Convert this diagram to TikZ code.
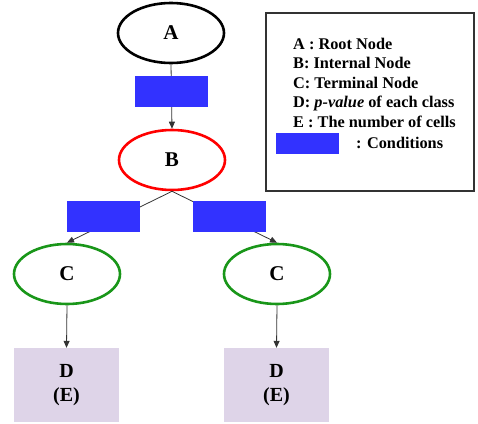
\documentclass[tikz,border=0pt]{standalone}
\usepackage{fontspec}
\setmainfont{Liberation Serif}
\usetikzlibrary{shapes.geometric,arrows.meta}
\definecolor{condblue}{RGB}{50,50,255}
\definecolor{leafpurple}{RGB}{222,212,232}
\definecolor{treegreen}{RGB}{25,150,25}
\begin{document}
\begin{tikzpicture}[x=1pt,y=-1pt,
  nodeell/.style={ellipse,line width=2.6pt,minimum width=106pt,minimum height=60pt,inner sep=0pt,font=\fontsize{21}{24}\selectfont\bfseries},
  cond/.style={fill=condblue,draw=none,minimum width=73pt,minimum height=31pt,inner sep=0pt},
  leaf/.style={fill=leafpurple,draw=none,minimum width=105pt,minimum height=74pt,inner sep=0pt,align=center,font=\fontsize{20}{24}\selectfont\bfseries},
  conn/.style={line width=0.8pt,black!80},
  arr/.style={conn,-{Triangle[length=7pt,width=6pt]}},
  legtext/.style={anchor=base west,inner sep=0pt,font=\fontsize{16.3}{18}\selectfont\bfseries}
]
\useasboundingbox (0,0) rectangle (478,423);
% nodes
\node[nodeell,draw=black] (A) at (171,33) {A};
\node[nodeell,draw=red] (B) at (172,160) {B};
\node[nodeell,draw=treegreen] (C1) at (67,274) {C};
\node[nodeell,draw=treegreen] (C2) at (277,274) {C};
\node[leaf] (D1) at (66.5,385) {D\\(E)};
\node[leaf] (D2) at (276.5,385) {D\\(E)};
% connectors
\draw[arr] (A.south) -- (B.north);
\draw[arr] (B.south) -- (C1.north);
\draw[arr] (B.south) -- (C2.north);
\draw[arr] (C1.south) -- (D1.north);
\draw[arr] (C2.south) -- (D2.north);
% condition boxes
\node[cond] (R0) at (171.5,91.5) {};
\node[cond] (R1) at (103.5,216) {};
\node[cond] (R2) at (229,216) {};
% legend
\node[draw=black!80,line width=1.8pt,minimum width=208pt,minimum height=178pt,inner sep=0pt] (L) at (370,102) {};
\node[legtext] (l1) at (293,49) {A : Root Node};
\node[legtext] (l2) at (293,68.5) {B: Internal Node};
\node[legtext] (l3) at (293,88) {C: Terminal Node};
\node[legtext] (l4) at (293,107.5) {D: \textit{p-value} of each class};
\node[legtext] (l5) at (293,127) {E : The number of cells};
\node[cond,minimum width=63pt,minimum height=21pt] (lr) at (307.5,143) {};
\node[legtext] (l6) at (356,148) {: Conditions};
\end{tikzpicture}
\end{document}
